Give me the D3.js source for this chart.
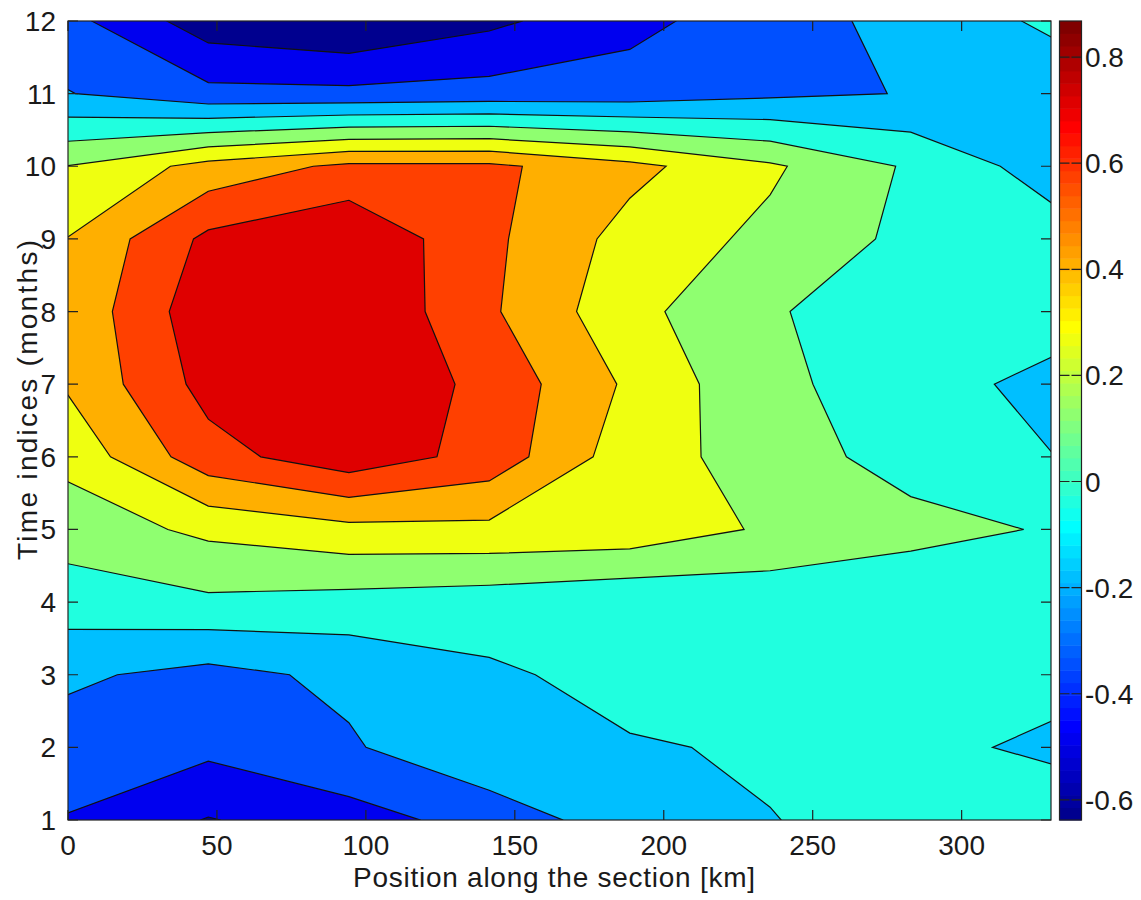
<!DOCTYPE html>
<html>
<head>
<meta charset="utf-8">
<script src="https://cdnjs.cloudflare.com/ajax/libs/d3/7.8.5/d3.min.js"></script>
<style>
  body { margin: 0; background: white; }
  text { font-family: "Liberation Sans", Arial, sans-serif; fill: #1a1a1a; }
</style>
</head>
<body>
<div id="container"></div>
<script>
let w = 1141;
let h = 900;

// DATA
// station positions along the section (km)
let stationKm = [0, 47.1, 94.3, 141.4, 188.6, 235.7, 282.9, 330];
let months = [1, 2, 3, 4, 5, 6, 7, 8, 9, 10, 11, 12];
// one row per month (month 1 first), one value per station
let field = [
  [-0.346, -0.495, -0.400, -0.276, -0.104, -0.038,  0.000,  0.050],  // 1
  [-0.255, -0.300, -0.204, -0.056, -0.046, -0.021,  0.000, -0.060],  // 2
  [-0.160, -0.234, -0.151, -0.057,  0.010,  0.010,  0.020,  0.010],  // 3
  [ 0.040,  0.087,  0.060,  0.035, -0.009,  0.018, -0.030,  0.050],  // 4
  [ 0.182,  0.300,  0.373,  0.380,  0.367,  0.243,  0.177,  0.100],  // 5
  [ 0.310,  0.660,  0.813,  0.660,  0.330,  0.204,  0.040, -0.030],  // 6
  [ 0.435,  0.770,  0.860,  0.671,  0.390,  0.140,  0.058, -0.098],  // 7
  [ 0.450,  0.820,  0.868,  0.590,  0.310,  0.134,  0.000,  0.072],  // 8
  [ 0.420,  0.752,  0.850,  0.600,  0.360,  0.229,  0.077,  0.038],  // 9
  [ 0.270,  0.470,  0.600,  0.600,  0.460,  0.290,  0.094, -0.108],  // 10
  [-0.180, -0.295, -0.300, -0.280, -0.270, -0.216, -0.180, -0.134],  // 11
  [-0.290, -0.570, -0.638, -0.520, -0.380, -0.250, -0.140, -0.007]   // 12
];
// contour levels and colour limits
let levels = [-0.487, -0.337, -0.186, -0.035, 0.115, 0.266, 0.416, 0.567, 0.717];
let colorLimits = [-0.638, 0.868];
let xTicks = [0, 50, 100, 150, 200, 250, 300];
let yTicks = months;
let cbTicks = [-0.6, -0.4, -0.2, 0, 0.2, 0.4, 0.6, 0.8];

// layout
let pLeft = 68, pRight = 1051, pTop = 21, pBottom = 820;
let cbLeft = 1059.5, cbWidth = 22;
let tickLen = 10;

// SVG
let viz = d3.select("#container").append("svg")
    .attr("width", w)
    .attr("height", h)
    .style("background-color", "white")
;

// matlab jet(64) colormap, built the same way matlab does
let nMap = 64;
let jetMap = (function(){
  let n = Math.ceil(nMap/4);
  let u = [];
  for (let i = 1; i <= n; i++) u.push(i/n);
  for (let i = 1; i < n; i++) u.push(1);
  for (let i = n; i >= 1; i--) u.push(i/n);
  let g0 = Math.ceil(n/2) - (nMap % 4 == 1 ? 1 : 0);
  let map = [];
  for (let k = 1; k <= nMap; k++){
    let gi = k - g0, ri = k - g0 - n, bi = k - g0 + n;   // 1-based index into u
    let pick = function(i){ return (i >= 1 && i <= u.length) ? u[i-1] : 0; };
    map.push(d3.rgb(pick(ri)*255, pick(gi)*255, pick(bi)*255).toString());
  }
  return map;
})();

let norm = d3.scaleLinear().domain(colorLimits).range([0, 1]);
function bandColor(v){
  let idx = Math.floor(norm(v)*nMap + 1e-9);
  return jetMap[Math.max(0, Math.min(nMap - 1, idx))];
}

// SCALES
let xScale = d3.scaleLinear().domain([0, 330]).range([pLeft, pRight]);
let yScale = d3.scaleLinear().domain([1, 12]).range([pBottom, pTop]);

// grid padded by one cell on every side so contours reach the plot edges
let nx = stationKm.length, ny = months.length;
let W = nx + 2, H = ny + 2;
let grid = new Array(W*H);
for (let j = 0; j < H; j++){
  let r = Math.min(Math.max(j - 1, 0), ny - 1);   // 0 = month 12 (top)
  let row = field[ny - 1 - r];
  for (let i = 0; i < W; i++){
    let c = Math.min(Math.max(i - 1, 0), nx - 1);
    grid[j*W + i] = row[c];
  }
}
let contours = d3.contours().size([W, H]).thresholds(levels)(grid);

// grid coords -> km / month -> pixels
let stationScale = d3.scaleLinear().domain(d3.range(nx)).range(stationKm);
let rowScale = d3.scaleLinear().domain(d3.range(ny)).range(months.slice().reverse());
let gridToScreen = d3.geoTransform({
  point: function(gx, gy){
    this.stream.point(xScale(stationScale(gx - 1.5)), yScale(rowScale(gy - 1.5)));
  }
});
let pathMaker = d3.geoPath(gridToScreen);

let defs = viz.append("defs");
defs.append("clipPath").attr("id", "plotClip")
  .append("rect")
    .attr("x", pLeft).attr("y", pTop)
    .attr("width", pRight - pLeft).attr("height", pBottom - pTop);

let plot = viz.append("g").attr("clip-path", "url(#plotClip)");

// lowest band
plot.append("rect")
  .attr("x", pLeft).attr("y", pTop)
  .attr("width", pRight - pLeft).attr("height", pBottom - pTop)
  .attr("fill", bandColor(colorLimits[0]));

plot.selectAll(".band").data(contours).enter()
  .append("path")
    .attr("class", "band")
    .attr("d", pathMaker)
    .attr("fill", function(d){ return bandColor(d.value); })
    .attr("stroke", "none");

plot.selectAll(".cline").data(contours).enter()
  .append("path")
    .attr("class", "cline")
    .attr("d", pathMaker)
    .attr("fill", "none")
    .attr("stroke", "#111")
    .attr("stroke-width", 1.2);

// AXES box + inward ticks on all sides
let axes = viz.append("g");
axes.append("rect")
  .attr("x", pLeft).attr("y", pTop)
  .attr("width", pRight - pLeft).attr("height", pBottom - pTop)
  .attr("fill", "none").attr("stroke", "#222").attr("stroke-width", 1.2);

axes.selectAll(".xt").data(xTicks).enter().append("path")
  .attr("d", function(d){
    let x = xScale(d);
    return "M" + x + "," + pBottom + "v" + (-tickLen) + "M" + x + "," + pTop + "v" + tickLen;
  })
  .attr("stroke", "#222").attr("stroke-width", 1.2);

axes.selectAll(".yt").data(yTicks).enter().append("path")
  .attr("d", function(d){
    let y = yScale(d);
    return "M" + pLeft + "," + y + "h" + tickLen + "M" + pRight + "," + y + "h" + (-tickLen);
  })
  .attr("stroke", "#222").attr("stroke-width", 1.2);

axes.selectAll(".xl").data(xTicks).enter().append("text")
  .attr("x", function(d){ return xScale(d); })
  .attr("y", 855)
  .attr("text-anchor", "middle")
  .attr("font-size", 28)
  .text(function(d){ return d; });

axes.selectAll(".yl").data(yTicks).enter().append("text")
  .attr("x", 56)
  .attr("y", function(d){ return yScale(d) + 10; })
  .attr("text-anchor", "end")
  .attr("font-size", 28)
  .text(function(d){ return d; });

axes.append("text")
  .attr("x", 554).attr("y", 887)
  .attr("text-anchor", "middle")
  .attr("font-size", 28)
  .attr("textLength", 402).attr("lengthAdjust", "spacing")
  .text("Position along the section [km]");

axes.append("text")
  .attr("transform", "translate(37,400) rotate(-90)")
  .attr("text-anchor", "middle")
  .attr("font-size", 28)
  .attr("textLength", 320).attr("lengthAdjust", "spacing")
  .text("Time indices (months)");

// COLORBAR (64 colour steps like matlab)
let cbScale = d3.scaleLinear().domain(colorLimits).range([pBottom, pTop]);
let stepH = (pBottom - pTop)/nMap;
viz.selectAll(".cbstep").data(jetMap).enter().append("rect")
  .attr("class", "cbstep")
  .attr("x", cbLeft)
  .attr("y", function(d, i){ return pBottom - (i + 1)*stepH; })
  .attr("width", cbWidth)
  .attr("height", stepH + 0.5)
  .attr("fill", function(d){ return d; });

viz.append("rect")
  .attr("x", cbLeft).attr("y", pTop)
  .attr("width", cbWidth).attr("height", pBottom - pTop)
  .attr("fill", "none")
  .attr("stroke", "#222").attr("stroke-width", 1.2);

viz.selectAll(".cbt").data(cbTicks).enter().append("path")
  .attr("d", function(d){
    let y = cbScale(d);
    return "M" + cbLeft + "," + y + "h10M" + (cbLeft + cbWidth) + "," + y + "h-10";
  })
  .attr("stroke", "#222").attr("stroke-width", 1.2);

viz.selectAll(".cbl").data(cbTicks).enter().append("text")
  .attr("x", 1085)
  .attr("y", function(d){ return cbScale(d) + 10; })
  .attr("font-size", 28)
  .text(function(d){ return d; });
</script>
</body>
</html>
